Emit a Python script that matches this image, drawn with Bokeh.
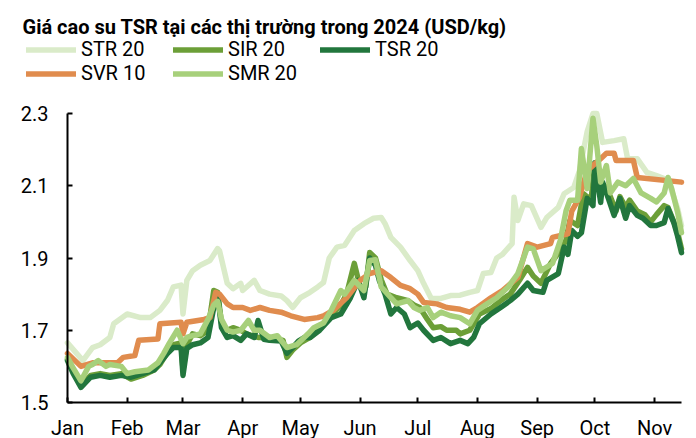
import pandas as pd
from bokeh.plotting import figure
from bokeh.models import (Range1d, FixedTicker, DatetimeTickFormatter, Legend, LegendItem,
                          DatetimeAxis, LinearAxis, Label)
from bokeh.embed import file_html
from bokeh.resources import INLINE

YEAR = "2024-"
title_text = "Giá cao su TSR tại các thị trường trong 2024 (USD/kg)"
month_starts = ["01-01", "02-01", "03-01", "04-01", "05-01", "06-01",
                "07-01", "08-01", "09-01", "10-01", "11-01"]
x_first, x_last = "01-01", "11-15"
y_ticks = [1.5, 1.7, 1.9, 2.1, 2.3]

str_dates = ["01-01", "01-09", "01-14", "01-18", "01-23", "01-25", "02-01", "02-08", "02-13", "02-18",
             "02-22", "02-25", "02-29", "03-01", "03-03", "03-06", "03-10", "03-15", "03-19", "03-20",
             "03-24", "03-27", "03-31", "04-01", "04-07", "04-10", "04-15", "04-21", "04-24", "04-27",
             "05-01", "05-06", "05-10", "05-13", "05-16", "05-20", "05-24", "05-29", "06-03", "06-08",
             "06-12", "06-14", "06-17", "06-22", "06-27", "07-01", "07-04", "07-08", "07-13", "07-18",
             "07-23", "07-28", "08-01", "08-04", "08-08", "08-11", "08-14", "08-19", "08-20", "08-22",
             "08-25", "08-29", "09-03", "09-06", "09-12", "09-15", "09-20", "09-23", "09-27", "09-30",
             "10-02", "10-05", "10-11", "10-16", "10-18", "10-23", "10-28", "11-02", "11-06", "11-09",
             "11-13", "11-15"]
str_vals = [1.665, 1.616, 1.652, 1.66, 1.68, 1.718, 1.745, 1.735, 1.735, 1.755,
            1.783, 1.82, 1.825, 1.745, 1.838, 1.865, 1.88, 1.893, 1.926, 1.92,
            1.83, 1.815, 1.83, 1.81, 1.838, 1.81, 1.80, 1.795, 1.782, 1.763,
            1.79, 1.805, 1.82, 1.832, 1.90, 1.93, 1.935, 1.976, 1.995, 2.01,
            2.012, 1.995, 1.957, 1.93, 1.893, 1.865, 1.83, 1.788, 1.788, 1.796,
            1.797, 1.805, 1.81, 1.857, 1.86, 1.90, 1.91, 1.94, 2.068, 2.004,
            2.05, 2.045, 1.985, 2.012, 2.04, 2.078, 2.095, 2.142, 2.25, 2.30,
            2.30, 2.22, 2.225, 2.23, 2.175, 2.175, 2.137, 2.128, 2.12, 2.10,
            2.037, 1.99]

sir_dates = ["01-01", "01-04", "01-08", "01-13", "01-18", "01-23", "01-29", "02-03", "02-09", "02-15",
             "02-18", "02-22", "02-25", "02-29", "03-01", "03-03", "03-06", "03-10", "03-14", "03-17",
             "03-19", "03-21", "03-24", "03-27", "03-31", "04-03", "04-09", "04-12", "04-15", "04-22",
             "04-24", "04-27", "05-01", "05-06", "05-11", "05-13", "05-17", "05-22", "05-25", "05-29",
             "06-01", "06-04", "06-06", "06-09", "06-12", "06-15", "06-20", "06-26", "06-29", "07-02",
             "07-06", "07-09", "07-13", "07-16", "07-21", "07-23", "07-28", "08-02", "08-08", "08-13",
             "08-18", "08-23", "08-27", "08-30", "09-03", "09-08", "09-13", "09-16", "09-18", "09-22",
             "09-25", "09-29", "10-01", "10-04", "10-06", "10-09", "10-12", "10-14", "10-17", "10-19",
             "10-23", "10-27", "10-30", "11-02", "11-06", "11-08", "11-11", "11-13", "11-15"]
sir_vals = [1.62, 1.59, 1.55, 1.575, 1.58, 1.575, 1.58, 1.565, 1.575, 1.59,
            1.605, 1.64, 1.66, 1.665, 1.59, 1.66, 1.69, 1.685, 1.70, 1.81,
            1.805, 1.72, 1.70, 1.707, 1.70, 1.69, 1.68, 1.68, 1.68, 1.672,
            1.625, 1.645, 1.665, 1.68, 1.705, 1.72, 1.74, 1.77, 1.80, 1.885,
            1.82, 1.82, 1.915, 1.90, 1.84, 1.80, 1.79, 1.782, 1.77, 1.763,
            1.73, 1.707, 1.71, 1.70, 1.70, 1.69, 1.70, 1.745, 1.76, 1.782,
            1.80, 1.84, 1.874, 1.85, 1.83, 1.885, 1.92, 1.95, 2.004, 1.99,
            2.078, 2.06, 2.16, 2.07, 2.10, 2.07, 2.03, 2.07, 2.04, 2.06,
            2.03, 2.02, 2.00, 2.02, 2.045, 2.04, 2.00, 1.97, 1.925]

tsr_dates = ["01-01", "01-04", "01-08", "01-13", "01-18", "01-23", "01-29", "02-03", "02-09", "02-15",
             "02-18", "02-22", "02-25", "02-29", "03-01", "03-03", "03-06", "03-10", "03-14", "03-17",
             "03-19", "03-21", "03-24", "03-27", "03-31", "04-03", "04-07", "04-09", "04-12", "04-15",
             "04-21", "04-24", "04-27", "04-30", "05-03", "05-06", "05-11", "05-17", "05-22", "05-27",
             "05-31", "06-03", "06-06", "06-09", "06-11", "06-14", "06-17", "06-20", "06-24", "06-27",
             "07-01", "07-04", "07-09", "07-13", "07-18", "07-23", "07-27", "07-30", "08-02", "08-08",
             "08-13", "08-18", "08-22", "08-27", "08-30", "09-04", "09-06", "09-12", "09-15", "09-17",
             "09-19", "09-22", "09-24", "09-27", "09-30", "10-01", "10-04", "10-05", "10-08", "10-11",
             "10-14", "10-17", "10-19", "10-23", "10-26", "10-30", "11-02", "11-06", "11-08", "11-11",
             "11-13", "11-15"]
tsr_vals = [1.616, 1.58, 1.542, 1.57, 1.575, 1.57, 1.575, 1.57, 1.58, 1.59,
            1.61, 1.636, 1.652, 1.652, 1.575, 1.65, 1.66, 1.665, 1.68, 1.763,
            1.80, 1.707, 1.68, 1.685, 1.672, 1.69, 1.68, 1.727, 1.675, 1.672,
            1.67, 1.636, 1.652, 1.67, 1.68, 1.68, 1.70, 1.735, 1.745, 1.79,
            1.838, 1.79, 1.90, 1.88, 1.838, 1.80, 1.745, 1.763, 1.745, 1.707,
            1.72, 1.70, 1.672, 1.68, 1.663, 1.672, 1.663, 1.68, 1.718, 1.745,
            1.763, 1.782, 1.80, 1.83, 1.81, 1.805, 1.838, 1.857, 1.93, 1.91,
            1.976, 1.96, 1.97, 2.065, 2.045, 2.164, 2.054, 2.11, 2.065, 2.018,
            2.065, 2.01, 2.045, 2.018, 2.01, 1.99, 1.99, 1.998, 2.037, 1.998,
            1.96, 1.915]

svr_dates = ["01-01", "01-08", "01-14", "01-27", "01-30", "02-05", "02-07", "02-17", "02-18", "02-29",
             "03-01", "03-03", "03-12", "03-15", "03-18", "03-20", "03-24", "03-27", "04-01", "04-05",
             "04-10", "04-15", "04-21", "04-26", "05-03", "05-10", "05-13", "05-18", "05-25", "06-01",
             "06-06", "06-12", "06-17", "06-22", "06-27", "07-01", "07-04", "07-11", "07-16", "07-23",
             "07-28", "08-01", "08-08", "08-14", "08-22", "08-27", "09-01", "09-08", "09-09", "09-17",
             "09-19", "09-23", "09-27", "10-04", "10-07", "10-11", "10-12", "10-21", "10-23", "11-15"]
svr_vals = [1.636, 1.60, 1.61, 1.61, 1.625, 1.63, 1.672, 1.676, 1.718, 1.722,
            1.69, 1.722, 1.73, 1.735, 1.805, 1.80, 1.773, 1.763, 1.763, 1.755,
            1.763, 1.755, 1.75, 1.74, 1.73, 1.735, 1.74, 1.755, 1.79, 1.838,
            1.857, 1.865, 1.846, 1.824, 1.815, 1.80, 1.777, 1.773, 1.763, 1.758,
            1.75, 1.763, 1.79, 1.81, 1.846, 1.94, 1.93, 1.94, 1.957, 1.967,
            2.03, 2.068, 2.142, 2.175, 2.19, 2.19, 2.17, 2.17, 2.123, 2.11]

smr_dates = ["01-01", "01-04", "01-08", "01-12", "01-14", "01-17", "01-21", "01-23", "01-29", "02-01",
             "02-05", "02-12", "02-17", "02-20", "02-23", "02-27", "03-01", "03-03", "03-06", "03-10",
             "03-14", "03-17", "03-19", "03-21", "03-24", "03-27", "03-31", "04-04", "04-07", "04-10",
             "04-15", "04-19", "04-24", "04-29", "05-05", "05-08", "05-13", "05-17", "05-22", "05-24",
             "05-29", "06-03", "06-06", "06-09", "06-12", "06-17", "06-20", "06-26", "06-29", "07-02",
             "07-06", "07-09", "07-13", "07-18", "07-23", "07-28", "08-01", "08-06", "08-11", "08-17",
             "08-22", "08-27", "08-30", "09-03", "09-06", "09-09", "09-13", "09-16", "09-18", "09-22",
             "09-24", "09-27", "09-30", "10-02", "10-04", "10-07", "10-09", "10-13", "10-17", "10-21",
             "10-25", "10-30", "11-02", "11-06", "11-08", "11-10", "11-13", "11-15"]
smr_vals = [1.625, 1.595, 1.56, 1.60, 1.605, 1.616, 1.60, 1.605, 1.60, 1.58,
            1.585, 1.59, 1.61, 1.636, 1.665, 1.70, 1.663, 1.68, 1.685, 1.69,
            1.73, 1.77, 1.78, 1.73, 1.70, 1.695, 1.70, 1.727, 1.70, 1.70,
            1.68, 1.685, 1.652, 1.66, 1.69, 1.707, 1.72, 1.755, 1.81, 1.80,
            1.838, 1.81, 1.893, 1.895, 1.82, 1.79, 1.773, 1.782, 1.763, 1.755,
            1.763, 1.735, 1.75, 1.74, 1.735, 1.718, 1.755, 1.773, 1.79, 1.82,
            1.857, 1.93, 1.925, 1.865, 1.875, 1.885, 1.948, 2.03, 2.06, 2.06,
            2.203, 2.092, 2.287, 2.21, 2.11, 2.156, 2.08, 2.11, 2.10, 2.12,
            2.08, 2.065, 2.055, 2.08, 2.123, 2.09, 2.026, 1.97]


def to_dt(ds):
    return pd.to_datetime([YEAR + d for d in ds])


def to_ms(d):
    return pd.Timestamp(YEAR + d).value / 1e6


FONT = "Roboto"
W, H = 696, 438
# layout: pixel positions of the axis frame inside the canvas
AX_LEFT, AX_RIGHT, AX_TOP, AX_BOTTOM = 67, 681, 113, 402

t0, t1 = to_ms(x_first), to_ms(x_last)
ms_per_px = (t1 - t0) / (AX_RIGHT - AX_LEFT)
x_start = t0 - AX_LEFT * ms_per_px
x_end = t1 + (W - AX_RIGHT) * ms_per_px
y0, y1 = y_ticks[0], y_ticks[-1]
v_per_px = (y1 - y0) / (AX_BOTTOM - AX_TOP)
y_end = y1 + AX_TOP * v_per_px
y_start = y0 - (H - AX_BOTTOM) * v_per_px

p = figure(width=W, height=H, x_axis_type="datetime",
           x_axis_location=None, y_axis_location=None,
           output_backend="svg", toolbar_location=None, min_border=0,
           x_range=Range1d(x_start, x_end), y_range=Range1d(y_start, y_end))
p.outline_line_color = None
p.grid.visible = False
p.background_fill_color = "white"
p.border_fill_color = "white"

series = [
    ("STR 20", str_dates, str_vals, "#daebc9"),
    ("SIR 20", sir_dates, sir_vals, "#6c9f38"),
    ("TSR 20", tsr_dates, tsr_vals, "#22763d"),
    ("SVR 10", svr_dates, svr_vals, "#e08c4e"),
    ("SMR 20", smr_dates, smr_vals, "#a7d07b"),
]
items = []
for name, ds, vs, col in series:
    r = p.line(to_dt(ds), vs, line_color=col, line_width=5.5,
               line_join="round", line_cap="round")
    items.append(LegendItem(label=name, renderers=[r]))

legend = Legend(items=items, ncols=3, orientation="horizontal",
                location=(26, 353),
                label_text_font=FONT, label_text_font_size="20px", label_text_color="#000000",
                glyph_width=50, glyph_height=19, label_height=19, label_width=92,
                label_standoff=5, spacing=0, padding=0, margin=0,
                border_line_alpha=0, background_fill_alpha=0)
p.add_layout(legend, "center")

title = Label(x=22, y=H - 26, x_units="screen", y_units="screen", text=title_text,
              text_font=FONT, text_font_style="bold", text_font_size="20px",
              text_color="#000000", text_baseline="alphabetic", text_align="left")
p.add_layout(title)

fmt = "%b"
xa = DatetimeAxis(fixed_location=y0, bounds=(t0, t1),
                  ticker=FixedTicker(ticks=[to_ms(m) for m in month_starts]),
                  formatter=DatetimeTickFormatter(milliseconds=fmt, seconds=fmt, minsec=fmt,
                                                  minutes=fmt, hourmin=fmt, hours=fmt, days=fmt,
                                                  months=fmt, years=fmt, context=None))
ya = LinearAxis(fixed_location=t0, bounds=(y0, y1), ticker=FixedTicker(ticks=y_ticks))
p.add_layout(xa, "below")
p.add_layout(ya, "left")

for ax in (xa, ya):
    ax.axis_line_color = "#000000"
    ax.axis_line_width = 2
    ax.major_tick_line_color = "#000000"
    ax.major_tick_line_width = 2
    ax.major_tick_in = 5
    ax.major_tick_out = 0
    ax.minor_tick_line_color = None
    ax.major_label_text_font = FONT
    ax.major_label_text_font_size = "20px"
    ax.major_label_text_color = "#000000"
xa.major_label_standoff = 13
ya.major_label_standoff = 19

open("out.html", "w").write(file_html(p, INLINE))
